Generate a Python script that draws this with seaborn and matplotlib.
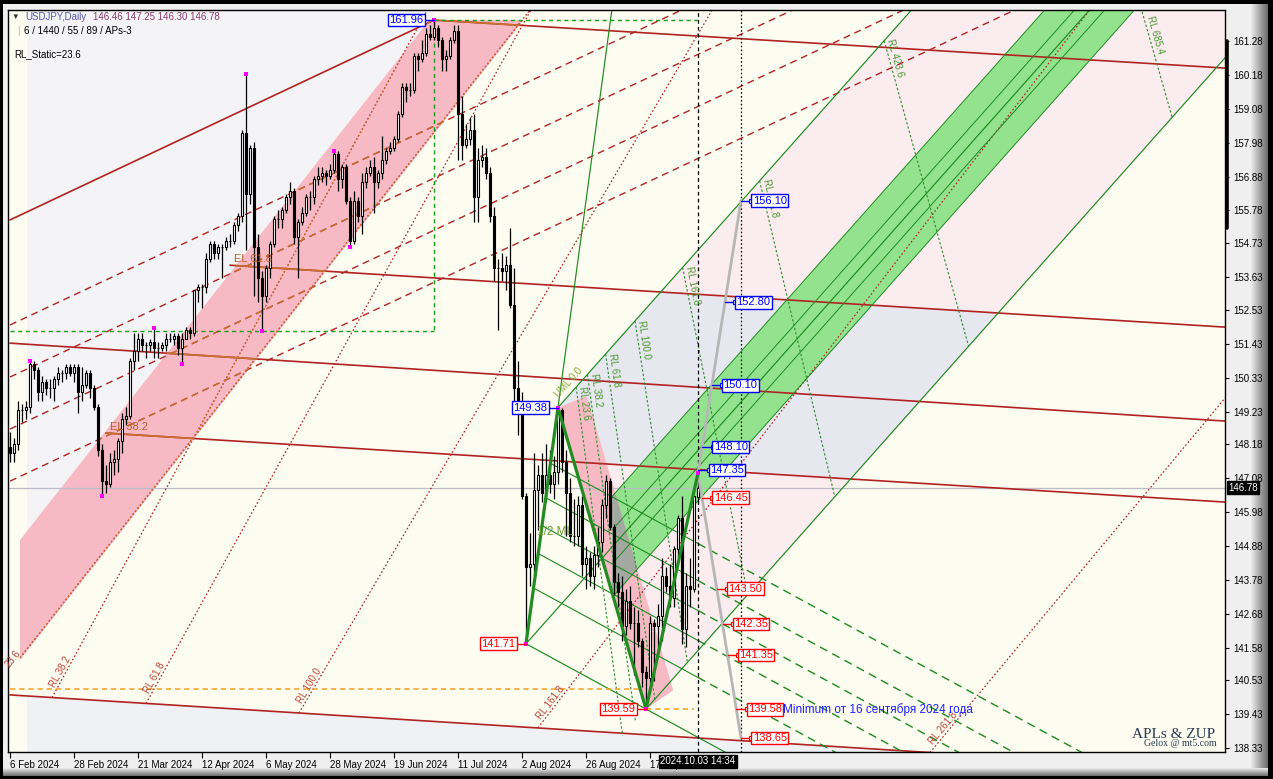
import numpy as np
import pandas as pd
import matplotlib
matplotlib.use("Agg")
import matplotlib.pyplot as plt
from matplotlib.patches import Polygon, Rectangle
import seaborn as sns

# USDJPY daily candles, 6 Feb 2024 .. 3 Oct 2024
opens = [148.1, 147.9, 148.2, 149.3, 149.3, 149.4, 150.8, 150.6, 149.9, 150.2, 150.0, 150.0, 150.3, 150.5, 150.5, 150.7, 150.5, 150.7,
         149.9, 150.1, 150.5, 150.0, 149.4, 148.0, 147.0, 146.9, 147.6, 147.7, 148.3, 149.0, 149.1, 150.9, 151.2, 151.6, 151.4, 151.4, 151.5, 151.3, 151.3,
         151.4, 151.6, 151.6, 151.7, 151.3, 151.6, 151.9, 151.8, 153.2, 153.3, 153.3, 154.2, 154.7, 154.4, 154.6, 154.6, 154.8, 154.8, 155.3, 155.6, 158.3, 156.3,
         157.8, 154.6, 153.6, 153.0, 153.9, 154.7, 155.5, 155.5, 155.8, 156.2, 156.4, 154.9, 155.4, 155.7, 156.2, 156.2, 156.8, 156.9, 157.0, 156.9, 157.1, 157.6, 156.8,
         157.2, 156.1, 154.8, 156.1, 155.6, 156.7, 157.0, 157.2, 156.7, 157.0, 157.4, 157.7, 157.8, 158.1, 158.9, 159.8, 159.7, 159.7, 160.8, 160.7,
         160.9, 161.5, 161.4, 161.7, 161.3, 160.7, 160.8, 161.3, 161.6, 158.9, 157.9, 158.1, 158.4, 156.2, 157.4, 157.5, 157.0, 155.6, 153.9, 153.9, 153.8, 154.0, 152.7,
         150.0, 149.4, 146.5, 144.2, 144.3, 146.7, 147.2, 146.6, 147.2, 146.9, 147.3, 149.3, 147.6, 146.6, 145.2, 145.2, 146.2, 144.3, 144.5, 143.9, 144.6, 145.0,
         146.2, 147.0, 145.5, 143.7, 143.4, 142.3, 143.1, 142.4, 142.4, 141.8, 140.8, 140.6, 142.4, 142.3, 142.6, 143.9, 143.6, 143.2, 144.8, 145.8, 142.2,
         143.6, 143.5, 146.46]
highs = [148.6, 148.4, 149.6, 149.5, 149.6, 150.9, 150.9, 150.7, 150.4, 150.3, 150.3, 150.4, 150.7, 150.6, 150.8, 150.8, 150.8, 150.8,
         150.7, 150.6, 150.6, 150.1, 149.5, 148.2, 147.5, 147.9, 148.0, 148.4, 149.2, 149.4, 151.0, 151.8, 151.8, 151.8, 151.5, 151.6, 151.97, 151.5, 151.5,
         151.8, 151.8, 151.8, 151.8, 151.8, 152.0, 152.0, 153.2, 153.4, 153.4, 154.4, 154.8, 154.8, 154.7, 154.7, 154.9, 155.0, 155.4, 155.7, 158.4, 160.2, 157.9,
         158.0, 155.0, 153.8, 154.0, 154.8, 155.6, 155.8, 155.9, 156.3, 156.7, 156.5, 155.5, 155.9, 156.3, 156.4, 156.9, 157.2, 157.2, 157.1, 157.3, 157.7, 157.7, 157.3,
         157.3, 156.2, 156.4, 156.2, 157.0, 157.2, 157.4, 157.5, 157.1, 158.2, 157.8, 158.0, 158.2, 159.0, 159.9, 159.9, 159.9, 160.9, 160.9, 161.3,
         161.7, 161.8, 161.96, 161.8, 161.4, 161.0, 161.4, 161.8, 161.8, 159.5, 158.6, 158.8, 158.9, 157.8, 157.9, 157.8, 157.2, 155.9, 154.2, 154.4, 154.3, 155.2, 153.9,
         150.9, 149.9, 146.6, 145.3, 147.9, 147.5, 147.9, 148.2, 148.0, 147.8, 149.38, 149.35, 148.0, 147.1, 146.4, 146.5, 146.5, 144.9, 144.7, 144.9, 145.5, 146.4,
         147.2, 147.1, 145.6, 144.0, 143.9, 143.5, 143.6, 142.9, 142.8, 141.9, 141.0, 142.6, 142.5, 143.0, 144.5, 144.2, 144.3, 144.9, 145.9, 146.5, 144.0,
         144.5, 146.5, 147.25]
lows = [147.6, 147.6, 148.0, 148.9, 149.0, 149.2, 150.3, 149.6, 149.6, 149.8, 149.7, 149.6, 150.1, 150.2, 150.3, 150.4, 150.2, 149.2,
        149.6, 150.0, 149.7, 149.3, 147.8, 146.5, 146.6, 146.8, 147.2, 147.3, 147.9, 148.8, 149.0, 150.6, 150.9, 151.2, 151.0, 151.2, 151.0, 151.0, 151.2,
        151.2, 151.5, 151.4, 151.1, 150.8, 151.6, 151.6, 151.7, 152.8, 152.6, 153.1, 154.1, 154.2, 154.2, 153.6, 154.5, 154.6, 154.7, 155.1, 155.4, 154.5, 156.0,
        153.0, 152.8, 151.86, 152.8, 153.6, 154.6, 155.2, 155.2, 155.7, 156.0, 154.7, 153.6, 155.3, 155.6, 155.8, 156.0, 156.6, 156.7, 156.6, 156.8, 157.0, 156.4, 156.5,
        156.0, 154.6, 154.7, 155.4, 155.0, 156.5, 156.9, 155.7, 156.5, 156.8, 157.3, 157.6, 157.7, 158.0, 158.8, 159.3, 159.5, 159.6, 160.3, 160.6,
        160.8, 161.3, 161.3, 161.1, 160.3, 160.3, 160.7, 161.2, 157.4, 157.4, 157.8, 157.9, 155.4, 155.4, 157.2, 156.8, 155.4, 153.5, 151.9, 153.5, 153.2, 152.6, 149.6,
        148.5, 146.4, 141.71, 143.6, 143.9, 145.4, 146.3, 146.3, 146.6, 146.4, 146.9, 147.3, 145.2, 145.0, 144.9, 144.9, 143.9, 143.5, 143.6, 143.5, 144.2, 144.7,
        145.8, 145.4, 143.3, 142.9, 141.8, 142.0, 142.2, 140.7, 141.6, 140.3, 139.58, 140.4, 140.5, 141.4, 141.8, 143.4, 142.9, 142.9, 144.5, 141.7, 141.6,
        142.9, 143.4, 146.30]
closes = [147.9, 148.2, 149.3, 149.3, 149.4, 150.8, 150.6, 149.9, 150.2, 150.0, 150.0, 150.3, 150.5, 150.5, 150.7, 150.5, 150.7, 149.9,
          150.1, 150.5, 150.0, 149.4, 148.0, 147.0, 146.9, 147.6, 147.7, 148.3, 149.0, 149.1, 150.9, 151.2, 151.6, 151.4, 151.4, 151.5, 151.3, 151.3, 151.4,
          151.6, 151.6, 151.7, 151.3, 151.6, 151.9, 151.8, 153.2, 153.3, 153.3, 154.2, 154.7, 154.4, 154.6, 154.6, 154.8, 154.8, 155.3, 155.6, 158.3, 156.3, 157.8,
          154.6, 153.6, 153.0, 153.9, 154.7, 155.5, 155.5, 155.8, 156.2, 156.4, 154.9, 155.4, 155.7, 156.2, 156.2, 156.8, 156.9, 157.0, 156.9, 157.1, 157.6, 156.8, 157.2,
          156.1, 154.8, 156.1, 155.6, 156.7, 157.0, 157.2, 156.7, 157.0, 157.4, 157.7, 157.8, 158.1, 158.9, 159.8, 159.7, 159.7, 160.8, 160.7, 160.9,
          161.5, 161.4, 161.7, 161.3, 160.7, 160.8, 161.3, 161.6, 158.9, 157.9, 158.1, 158.4, 156.2, 157.4, 157.5, 157.0, 155.6, 153.9, 153.9, 153.8, 154.0, 152.7, 150.0,
          149.4, 146.5, 144.2, 144.3, 146.7, 147.2, 146.6, 147.2, 146.9, 147.3, 149.3, 147.6, 146.6, 145.2, 145.2, 146.2, 144.3, 144.5, 143.9, 144.6, 145.0, 146.2,
          147.0, 145.5, 143.7, 143.4, 142.3, 143.1, 142.4, 142.4, 141.8, 140.8, 140.6, 142.4, 142.3, 142.6, 143.9, 143.6, 143.2, 144.8, 145.8, 142.2, 143.6,
          143.5, 146.5, 146.78]

date_tick_i = [0, 16, 32, 48, 64, 80, 96, 112, 128, 144, 160]
date_labels = ['6 Feb 2024', '28 Feb 2024', '21 Mar 2024', '12 Apr 2024', '6 May 2024', '28 May 2024',
               '19 Jun 2024', '11 Jul 2024', '2 Aug 2024', '26 Aug 2024', '17 Sep 2024']
price_ticks = [161.28, 160.18, 159.08, 157.98, 156.88, 155.78, 154.73, 153.63, 152.53, 151.43, 150.33,
               149.23, 148.18, 147.08, 145.98, 144.88, 143.78, 142.68, 141.58, 140.53, 139.43, 138.33]
last_price = 146.78

# ZUP pivots A, B, C, D (bar index, price)
piv_i = [129, 137, 159, 172]
piv_p = [141.71, 149.38, 139.59, 147.25]
piv_txt = ['141.71', '149.38', '139.59', None]
piv_col = ['#ff0000', '#0000ff', '#ff0000', None]
top_i, top_p = 106, 161.96
low_box_p = 151.86

# red trend lines (i0, p0, i1, p1)
red_solid = [(0, 155.47, 106, 161.96), (106, 161.96, 303.75, 160.40), (55, 154.0, 303.75, 151.99),
             (0, 151.47, 303.75, 148.94), (24, 148.55, 303.75, 146.31), (0, 140.05, 303.75, 137.58)]
red_dash_base = [152.06, 150.37, 148.68, 146.99]
red_dash_slope = 0.0609
rl_red = ['23.6', 'RL 38.2', 'RL 61.8', 'RL 100.0', 'RL 161.8', 'RL 261.8']
rl_red_i = [2.5, 10.5, 34.0, 72.25, 132.0, 230.0]
rl_red_p = [141.25, 139.96, 139.77, 139.46, 138.98, 138.18]
rl_red_slope = [0.165, 0.238, 0.234, 0.221, 0.169, 0.156]

# rising pink channel
pink_i0, pink_up0, pink_lo0, pink_s = 2.5, 145.08, 141.18, 0.165
# descending pink channel along B-C
desc_i = [137, 144.2, 165.8, 159]
desc_p = [149.38, 149.75, 140.2, 139.59]

band_i0, band_w = 150.5, 1.64
rl_green = ['RL 23.6', 'RL 38.2', 'RL 61.8', 'RL 100.0', 'RL 161.8', 'RL 261.8', 'RL 423.6', 'RL 685.4']
rl_green_ratio = [23.6, 38.2, 61.8, 100, 161.8, 261.8, 423.6, 685.4]
rl_green_run = [11.6, 12.0, 12.3, 13.1, 16.3, 18.8, 21.1, 21.6]
fib_warn = [0.236, 0.382, 0.5, 0.618, 0.764]

gray_i = 182.75
gray_top, gray_bot = 156.10, 138.65
lvl_up = [156.10, 152.80, 150.10, 148.10, 147.35]
lvl_dn = [146.45, 143.50, 142.35, 141.35, 139.58, 138.65]

mk_i = [5, 23, 36, 43, 59, 63, 81, 85, 106, 129, 137, 159, 172]
mk_p = [150.9, 146.5, 151.97, 150.8, 160.2, 151.86, 157.7, 154.6, 161.96, 141.71, 149.38, 139.59, 147.25]

assert len(opens) == len(highs) == len(lows) == len(closes) == 173

W, H = 1273, 779
sns.set_style("white")
plt.rcParams['font.family'] = ['Liberation Sans', 'DejaVu Sans']

fig = plt.figure(figsize=(W / 100, H / 100), dpi=100)
fig.patch.set_facecolor('black')
fig.add_artist(Rectangle((3 / W, 1 - 768 / H), 1250 / W, 764 / H, transform=fig.transFigure,
                         fc='#efefef', ec='none', zorder=-5))
bev_r = fig.add_axes([1250 / W, 1 - 776 / H, 18 / W, 772 / H], zorder=-1)
bev_r.imshow(np.linspace(0.94, 0.42, 18)[None, :], cmap='gray', vmin=0, vmax=1, aspect='auto')
bev_r.axis('off')
bev_b = fig.add_axes([3 / W, 1 - 776 / H, 1265 / W, 8 / H], zorder=-1)
bev_b.imshow(np.linspace(0.9, 0.45, 8)[:, None], cmap='gray', vmin=0, vmax=1, aspect='auto')
bev_b.axis('off')

ax = fig.add_axes([8 / W, 1 - 752 / H, 1217 / W, 742 / H])
X0, X1, Y0, Y1 = -0.5, 303.75, 138.196, 162.286
ax.set_facecolor('#fcfcf1')
sx = 1217 / (X1 - X0)
sy = 742 / (Y1 - Y0)


def deg(slope):
    return np.degrees(np.arctan(slope * sy / sx))


def line(i0, p0, i1, p1, **kw):
    return ax.plot([i0, i1], [p0, p1], **kw)[0]


def meet(i1, p1, s1, i2, p2, s2):
    i = (p2 - p1 + s1 * i1 - s2 * i2) / (s1 - s2)
    return i, p1 + s1 * (i - i1)


RED, SIENNA, GREEN = '#b22222', '#c8702e', '#1f8a1f'
Ai, Bi, Ci, Di = piv_i
Ap, Bp, Cp, Dp = piv_p
m = ((Bp + Cp) / 2 - Ap) / ((Bi + Ci) / 2 - Ai)
ab_s = (Bp - Ap) / (Bi - Ai)
ac_s = (Cp - Ap) / (Ci - Ai)
bc_s = (Cp - Bp) / (Ci - Bi)


def med(i):
    return Ap + m * (i - Ai)


def rline(k):
    i0, p0, i1, p1 = red_solid[k]
    return i1, p1, (p1 - p0) / (i1 - i0)


# --- background areas ---
up_top = pink_i0 + (Y1 - pink_up0) / pink_s
ax.add_patch(Polygon([(4.25, Y1), (up_top, Y1), (4.25, pink_up0 + pink_s * (4.25 - pink_i0))],
                     fc='#f4f3f5', ec='none', zorder=0.8))
r6i, r6p, r6s = rline(5)
ax.add_patch(Polygon([(4.25, r6p + r6s * (4.25 - r6i)), (X1 + 1, r6p + r6s * (X1 + 1 - r6i)),
                      (X1 + 1, Y0 - 1), (4.25, Y0 - 1)], fc='#eff1f5', ec='none', zorder=0.8))
u_top = Bi + (Y1 - Bp) / m
ax.add_patch(Polygon([(Bi, Bp), (u_top, Y1), (X1 + 1, Y1), (X1 + 1, Cp + m * (X1 + 1 - Ci)), (Ci, Cp)],
                     fc='#fbedef', ec='none', zorder=0.9))
r3 = rline(2)
r5 = rline(4)
lav = [(Bi, Bp), meet(Bi, Bp, m, *r3), meet(Ci, Cp, m, *r3), meet(Ci, Cp, m, *r5), meet(Bi, Bp, bc_s, *r5)]
ax.add_patch(Polygon(lav, fc='#e7e7ef', ec='none', zorder=1.0))

pink_patch = Polygon([(pink_i0, pink_up0), (pink_i0, pink_lo0),
                      (pink_i0 + (top_p - pink_lo0) / pink_s, top_p),
                      (pink_i0 + (top_p - pink_up0) / pink_s, top_p)],
                     fc='#f7bac5', ec='none', zorder=1.2)
ax.add_patch(pink_patch)

green_patch = Polygon([(band_i0, med(band_i0) - band_w), (band_i0, med(band_i0) + band_w),
                       (Ai + (Y1 - band_w - Ap) / m, Y1), (Ai + (Y1 + band_w - Ap) / m, Y1)],
                      fc='#93e38e', ec='none', zorder=1.4)
ax.add_patch(green_patch)
desc_pts = list(zip(desc_i, desc_p))
ax.add_patch(Polygon(desc_pts, fc='#f7bac5', ec='none', zorder=1.5))
gray_patch = Polygon(desc_pts, fc='#a3a9a0', ec='none', zorder=1.6)
ax.add_patch(gray_patch)
gray_patch.set_clip_path(green_patch)


# --- red lines (sienna where they cross the pink channel) ---
def red(i0, p0, i1, p1, **kw):
    line(i0, p0, i1, p1, color=RED, zorder=2, **kw)
    ln = line(i0, p0, i1, p1, color=SIENNA, zorder=2.05, **kw)
    ln.set_clip_path(pink_patch)


for seg in red_solid:
    red(*seg, lw=1.2)
for b in red_dash_base:
    red(0, b, 330, b + red_dash_slope * 330, lw=1.0, dashes=(5, 3.5))
for lab, i0, p0, s in zip(rl_red, rl_red_i, rl_red_p, rl_red_slope):
    red(i0, p0, 330, p0 + s * (330 - i0), lw=0.9, dashes=(1.3, 1.8))
    li = 0.2 if i0 < 5 else i0 + 1.2
    ax.text(li, p0 + s * (li - i0), lab, rotation=deg(s), rotation_mode='anchor', ha='left',
            va='bottom', fontsize=7, color='#b9473a', zorder=4)
ax.text(56, 154.05, 'EL 61.8', fontsize=8, color='#b8602a', va='bottom', zorder=4)
ax.text(25, 148.6, 'EL 38.2', fontsize=8, color='#b8602a', va='bottom', zorder=4)

# --- green pitchfork ---
gkw = dict(color=GREEN, lw=0.85, zorder=2.2)
line(Ai, Ap, 330, med(330), **gkw)
for d in (-band_w, -0.55, 0.55, band_w):
    line(band_i0, med(band_i0) + d, 330, med(330) + d, color=GREEN, lw=0.7, zorder=2.2)
line(Bi, Bp, 330, Bp + m * (330 - Bi), **gkw)
line(Ci, Cp, 330, Cp + m * (330 - Ci), **gkw)
line(Ai, Ap, 160, Ap + ab_s * (160 - Ai), **gkw)
line(Ai, Ap, 200, Ap + ac_s * (200 - Ai), **gkw)

off = Bp - (Ap + ac_s * (Bi - Ai))
for f in fib_warn:
    i_s = Ai + off * f / (ab_s - ac_s)
    p_at = lambda i: Ap + ac_s * (i - Ai) + off * f
    line(i_s, p_at(i_s), Di, p_at(Di), color=GREEN, lw=0.8, zorder=2.2)
    line(Di, p_at(Di), 330, p_at(330), color=GREEN, lw=1.0, dashes=(6, 4), zorder=2.2)
ax.text(131.75, 145.35, '1/2 ML', fontsize=8.5, color='#6b9b30', va='center', zorder=4)
ax.text(Bi + 0.6, Bp + 0.25, 'UML 0.0', rotation=deg(m), rotation_mode='anchor', fontsize=7,
        color='#8aa63a', ha='left', va='bottom', zorder=4)

for r, run, lab in zip(rl_green_ratio, rl_green_run, rl_green):
    i_s = Bi + 0.1925 * r
    p_s = Bp + m * (i_s - Bi)
    i_e = i_s + run
    p_e = Cp + m * (i_e - Ci)
    slope = (p_e - p_s) / (i_e - i_s)
    line(i_s, p_s, i_e, p_e, color='#2e8b2e', lw=0.8, dashes=(2.2, 1.8), zorder=2.3)
    li, lp = i_s, p_s
    if lp > Y1 - 0.25:
        lp = Y1 - 0.25
        li = i_s + (lp - p_s) / slope
    ax.text(li + 0.3, lp, lab, rotation=deg(slope), rotation_mode='anchor', ha='left', va='bottom',
            fontsize=7, color='#4a9830', zorder=4, clip_on=True)

# --- helper levels ---
dkw = dict(color='#1a9a1a', lw=1.0, dashes=(3, 2.5), zorder=2.4)
line(top_i, top_p, Di, top_p, **dkw)
line(top_i, top_p, top_i, low_box_p, **dkw)
line(0, low_box_p, top_i, low_box_p, **dkw)
okw = dict(color='#f5a020', lw=1.1, dashes=(3.5, 2.5), zorder=2.4)
line(0, 140.24, 157.5, 140.24, **okw)
line(Ci, Cp, 171, Cp, **okw)
ax.axhline(last_price, color='#bcbcc8', lw=0.9, zorder=1.9)
ax.axvline(Di, color='black', lw=0.9, dashes=(3, 2.5), zorder=2.5)
ax.axvline(gray_i, color='black', lw=0.9, dashes=(1.3, 1.8), zorder=2.5)

# --- candles ---
o, h, l, c = map(np.array, (opens, highs, lows, closes))
idx = np.arange(len(c))
up = c >= o
ax.vlines(idx, l, h, color='black', lw=0.9, zorder=3)
ax.bar(idx[up], c[up] - o[up], bottom=o[up], width=0.6, color='white', edgecolor='black', linewidth=0.8, zorder=3.1)
ax.bar(idx[~up], o[~up] - c[~up], bottom=c[~up], width=0.6, color='black', edgecolor='black', linewidth=0.8, zorder=3.1)

# zigzag and projection
sns.lineplot(x=piv_i, y=piv_p, ax=ax, color='#228b22', linewidth=2.3, sort=False, zorder=3.6, legend=False)
line(Di, Dp, gray_i, gray_top, color='#b6b6b6', lw=2, zorder=3.4)
line(Di, Dp, gray_i, gray_bot, color='#b6b6b6', lw=2, zorder=3.4)
sns.scatterplot(x=mk_i, y=mk_p, ax=ax, color='#ff00ff', marker='s', s=7, linewidth=0, zorder=4, legend=False)


def tag(i, p, txt, col, ha):
    ax.text(i, p, txt, ha=ha, va='center', fontsize=8, color=col, zorder=6,
            bbox=dict(boxstyle='square,pad=0.12', fc='white', ec=col, lw=1))


for p in lvl_up + lvl_dn:
    col = '#0000ff' if p in lvl_up else '#ff0000'
    if p in lvl_up:
        i_g = Di + (p - Dp) / (gray_top - Dp) * (gray_i - Di)
    else:
        i_g = Di + (Dp - p) / (Dp - gray_bot) * (gray_i - Di)
    ax.plot([i_g, i_g + 2.6], [p, p], color=col, lw=1, zorder=5)
    ax.plot([i_g + 2.6], [p], marker='s', ms=3, mfc='white', mec=col, mew=0.8, zorder=5)
    tag(i_g + 2.9, p, f'{p:.2f}', col, 'left')

for pi, pp, txt, col in list(zip(piv_i, piv_p, piv_txt, piv_col)) + [(top_i, top_p, '161.96', '#0000ff')]:
    if txt is None:
        continue
    ax.plot([pi - 2.5, pi], [pp, pp], color=col, lw=1, zorder=5)
    tag(pi - 2.7, pp, txt, col, 'right')

ax.text(193.25, 139.58, 'Minimum от 16 сентября 2024 года', fontsize=8.5, color='#2020ff',
        ha='left', va='center', zorder=6)
ax.text(0.9918, 0.023, 'APLs & ZUP', transform=ax.transAxes, ha='right', va='center',
        fontsize=11, family='Liberation Serif', color='#2c3a50', zorder=6)
ax.text(0.9935, 0.011, 'Gelox @ mt5.com', transform=ax.transAxes, ha='right', va='center',
        fontsize=7, family='Liberation Serif', color='#2c3a50', zorder=6)

# --- axes ---
ax.set_xlim(X0, X1)
ax.set_ylim(Y0, Y1)
ax.set_xlabel('')
ax.set_ylabel('')
for sp in ax.spines.values():
    sp.set_color('black')
    sp.set_linewidth(1)
ax.yaxis.tick_right()
ax.set_yticks(price_ticks)
ax.set_yticklabels([f'{v:.2f}' for v in price_ticks])
ax.tick_params(axis='y', right=True, left=False, direction='out', length=3, width=0.8,
               pad=3, labelsize=7, colors='black')
ax.set_xticks(date_tick_i)
ax.set_xticklabels(date_labels, ha='left')
ax.tick_params(axis='x', bottom=True, direction='out', length=4, width=0.8, pad=1.5,
               labelsize=7, colors='black')

ax.plot([1.0015, 1.0015], [161.28, 155.2], transform=ax.get_yaxis_transform(), color='black',
        lw=2.6, clip_on=False, zorder=7)
ax.text(1.0025, last_price, f'{last_price:.2f}', transform=ax.get_yaxis_transform(), ha='left',
        va='center', color='white', fontsize=7, clip_on=False, zorder=8,
        bbox=dict(boxstyle='square,pad=0.12', fc='black', ec='black'))
ax.text(Di, -0.006, '2024.10.03 14:34', transform=ax.get_xaxis_transform(), ha='center', va='top',
        color='white', fontsize=7, clip_on=False, zorder=8,
        bbox=dict(boxstyle='square,pad=0.15', fc='black', ec='black'))

# --- header ---
fig.text(11 / W, 1 - 17 / H, '▼', fontsize=5.5, color='#303030', va='center')
fig.text(25 / W, 1 - 17 / H, 'USDJPY,Daily', fontsize=7, color='#5a5aa8', va='center')
fig.text(93 / W, 1 - 17 / H, '146.46 147.25 146.30 146.78', fontsize=7, color='#8b3a6b', va='center')
fig.text(17 / W, 1 - 31 / H, '|', fontsize=7, color='#f0b030', va='center')
fig.text(24 / W, 1 - 31 / H, '6 / 1440 / 55 / 89 / APs-3', fontsize=7, color='black', va='center')
fig.text(14 / W, 1 - 54 / H, 'RL_Static=23.6', fontsize=7, color='black', va='center')

fig.savefig('out.png', dpi=100, facecolor=fig.get_facecolor())
